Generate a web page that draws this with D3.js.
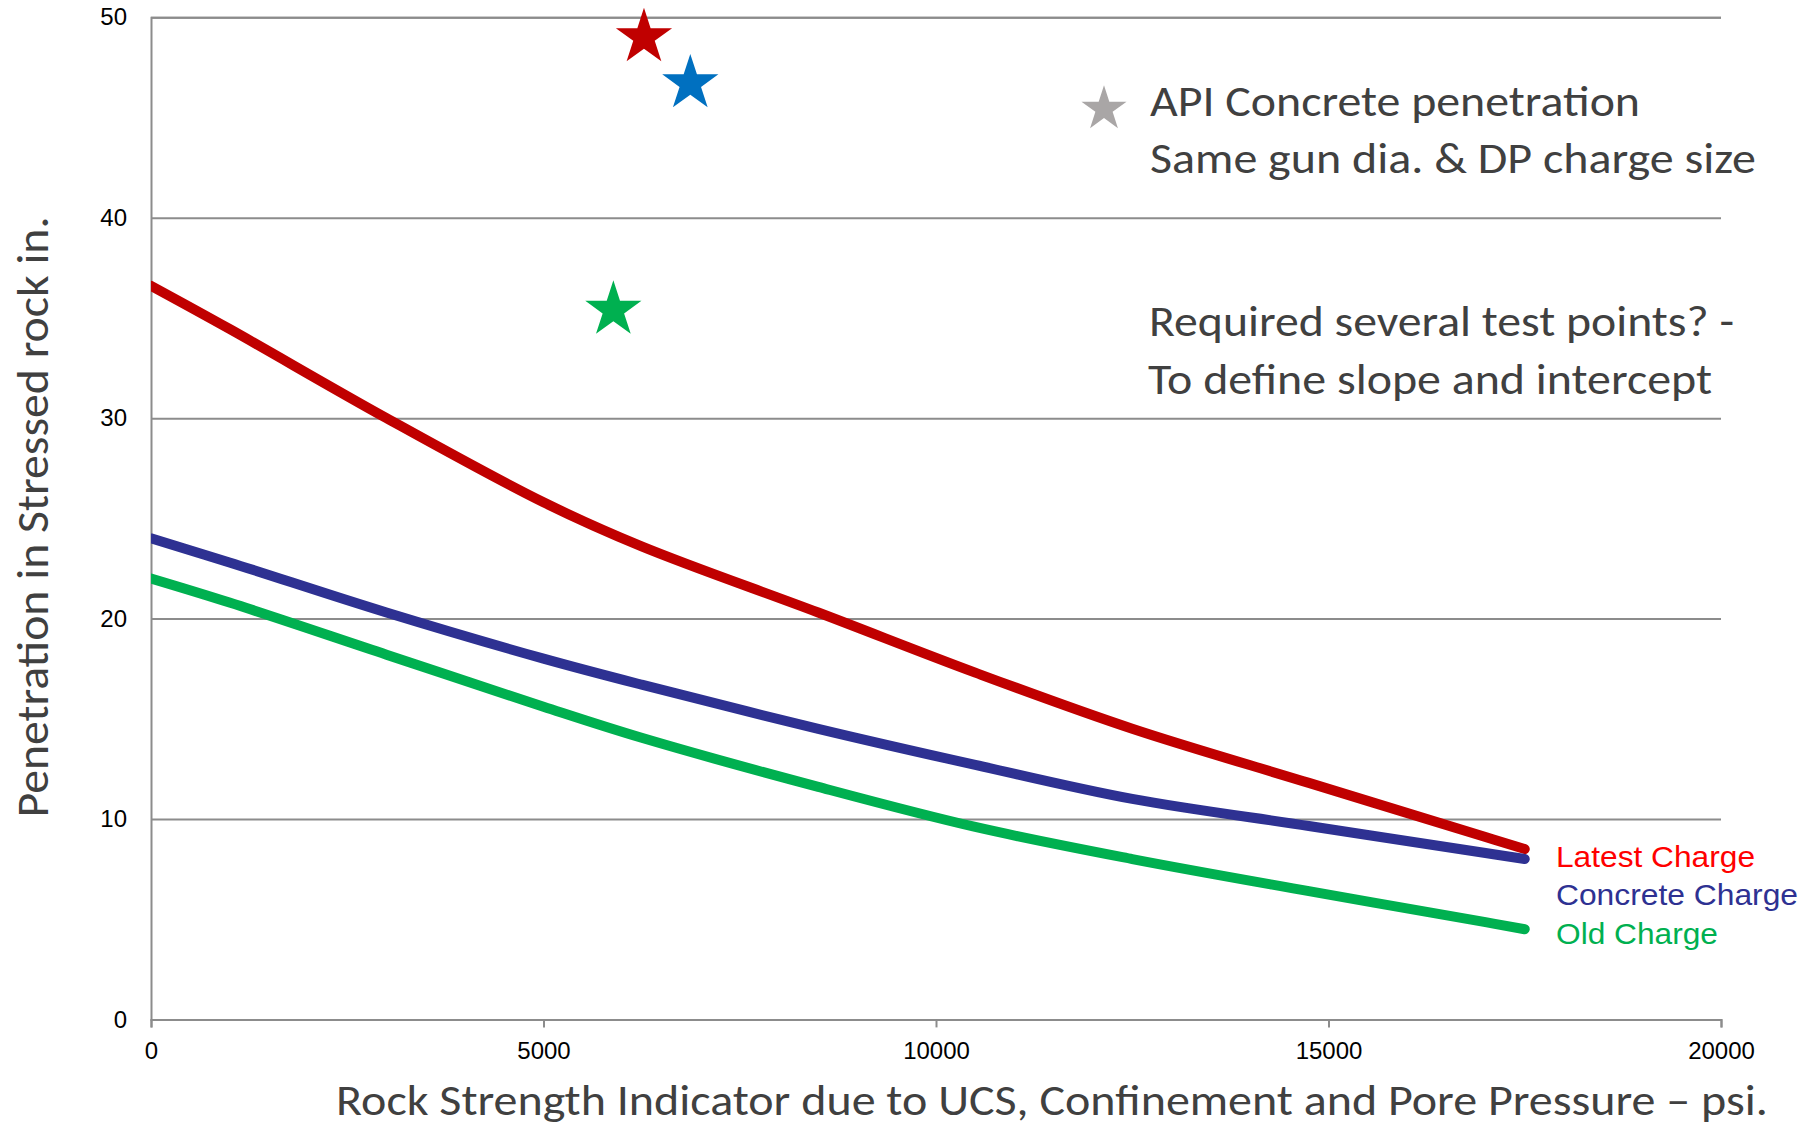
<!DOCTYPE html>
<html>
<head>
<meta charset="utf-8">
<script src="https://cdn.jsdelivr.net/npm/d3@7"></script>
<style>
  body { margin: 0; background: #fff; }
  svg { display: block; }
</style>
</head>
<body>
<script>
// rock strength (psi) where each curve was read
const strength = [0, 1000, 3000, 5000, 6250, 8500, 10500, 12500, 14750, 17000, 17500];
// penetration (in.) for each charge
const latest   = [36.6, 34.45, 30.0, 25.8, 23.6, 20.3, 17.3, 14.5, 11.8, 9.1, 8.5];
const concrete = [24.0, 22.8, 20.3, 18.0, 16.7, 14.5, 12.7, 11.0, 9.65, 8.3, 8.0];
const old      = [22.0, 20.8, 18.2, 15.6, 14.05, 11.6, 9.6, 8.0, 6.4, 4.85, 4.5];
const seriesNames = ["Latest Charge", "Concrete Charge", "Old Charge"];

// API concrete test points (stars)
const apiX = [6280, 6870, 5890];
const apiY = [49, 46.7, 35.4];

const xTicks = [0, 5000, 10000, 15000, 20000];
const yTicks = [0, 10, 20, 30, 40, 50];

const W = 1806, H = 1129;
const plot = {left: 151, right: 1721, top: 17.3, bottom: 1019.4};

const lineColors = ["#C00000", "#2E3192", "#00B050"];
const labelColors = ["#FF0000", "#2E3192", "#00B050"];
const starColors = ["#C00000", "#0070C0", "#00B050"];
const calibri = "Carlito, Calibri, Lato, sans-serif";
const arial = "Arial, 'Liberation Sans', sans-serif";
const textGray = "#404040";
const gridGray = "#8C8C8C";

const svg = d3.select("body").append("svg")
  .attr("width", W).attr("height", H);

const x = d3.scaleLinear().domain([0, 20000]).range([plot.left, plot.right]);
const y = d3.scaleLinear().domain([0, 50]).range([plot.bottom, plot.top]);

// stretch a text to a measured width (fonts differ from the original)
const fit = (sel, w) => sel.attr("textLength", w).attr("lengthAdjust", "spacingAndGlyphs");

// horizontal grid lines + y axis
const yAxis = d3.axisLeft(y).tickValues(yTicks).tickSize(-(plot.right - plot.left)).tickPadding(24);
const gy = svg.append("g").attr("transform", `translate(${plot.left},0)`).call(yAxis);
gy.select(".domain").attr("stroke", gridGray).attr("stroke-width", 2);
gy.selectAll(".tick line").attr("stroke", gridGray).attr("stroke-width", 2);
gy.selectAll(".tick text")
  .attr("font-family", arial).attr("font-size", 24).attr("fill", "#000");

// x axis
const xAxis = d3.axisBottom(x).tickValues(xTicks).tickSize(8).tickPadding(15).tickFormat(d3.format("d"));
const gx = svg.append("g").attr("transform", `translate(0,${plot.bottom})`).call(xAxis);
gx.select(".domain").attr("stroke", gridGray).attr("stroke-width", 2);
gx.selectAll(".tick line").attr("stroke", gridGray).attr("stroke-width", 2);
gx.selectAll(".tick text")
  .attr("font-family", arial).attr("font-size", 24).attr("fill", "#000");

// curves
svg.append("clipPath").attr("id", "plotclip")
  .append("rect")
  .attr("x", plot.left).attr("y", 0)
  .attr("width", plot.right - plot.left + 20).attr("height", plot.bottom);

const line = d3.line()
  .x((d, i) => x(strength[i]))
  .y(d => y(d))
  .curve(d3.curveCatmullRom.alpha(0.5));

const allSeries = [latest, concrete, old];
svg.append("g").attr("clip-path", "url(#plotclip)")
  .selectAll("path")
  .data(allSeries)
  .join("path")
  .attr("d", line)
  .attr("fill", "none")
  .attr("stroke", (d, i) => lineColors[i])
  .attr("stroke-width", 10)
  .attr("stroke-linecap", "round")
  .attr("stroke-linejoin", "round");

// series labels at the end of the curves
const labelY = [867, 905, 944];
const labelW = [199, 242, 162];
svg.selectAll(".serieslabel")
  .data(seriesNames)
  .join("text")
  .attr("class", "serieslabel")
  .attr("x", 1556)
  .attr("y", (d, i) => labelY[i])
  .attr("font-family", arial)
  .attr("font-size", 30)
  .attr("fill", (d, i) => labelColors[i])
  .text(d => d)
  .each(function(d, i) { d3.select(this).call(fit, labelW[i]); });

// API stars
const star = d3.symbol().type(d3.symbolStar).size(980);
svg.selectAll(".api")
  .data(apiX)
  .join("path")
  .attr("class", "api")
  .attr("transform", (d, i) => `translate(${x(d)},${y(apiY[i])})`)
  .attr("d", star)
  .attr("fill", (d, i) => starColors[i]);

// annotation
svg.append("path")
  .attr("transform", "translate(1104,109)")
  .attr("d", d3.symbol().type(d3.symbolStar).size(630))
  .attr("fill", "#A9A6A6");

const notes = [
  {t: "API Concrete penetration", x: 1150, y: 116, w: 490},
  {t: "Same gun dia. & DP charge size", x: 1150, y: 173, w: 606},
  {t: "Required several test points? -", x: 1149, y: 336, w: 585},
  {t: "To define slope and intercept", x: 1148, y: 394, w: 564}
];
notes.forEach(n => {
  svg.append("text")
    .attr("x", n.x).attr("y", n.y)
    .attr("font-family", calibri).attr("font-size", 44)
    .attr("fill", textGray)
    .text(n.t)
    .call(fit, n.w);
});

// axis titles
svg.append("text")
  .attr("x", 1052).attr("y", 1115)
  .attr("text-anchor", "middle")
  .attr("font-family", calibri).attr("font-size", 44)
  .attr("fill", textGray)
  .text("Rock Strength Indicator due to UCS, Confinement and Pore Pressure – psi.")
  .call(fit, 1432);

svg.append("text")
  .attr("transform", "translate(48,517) rotate(-90)")
  .attr("text-anchor", "middle")
  .attr("font-family", calibri).attr("font-size", 45)
  .attr("fill", textGray)
  .text("Penetration in Stressed rock in.")
  .call(fit, 601);
</script>
</body>
</html>
